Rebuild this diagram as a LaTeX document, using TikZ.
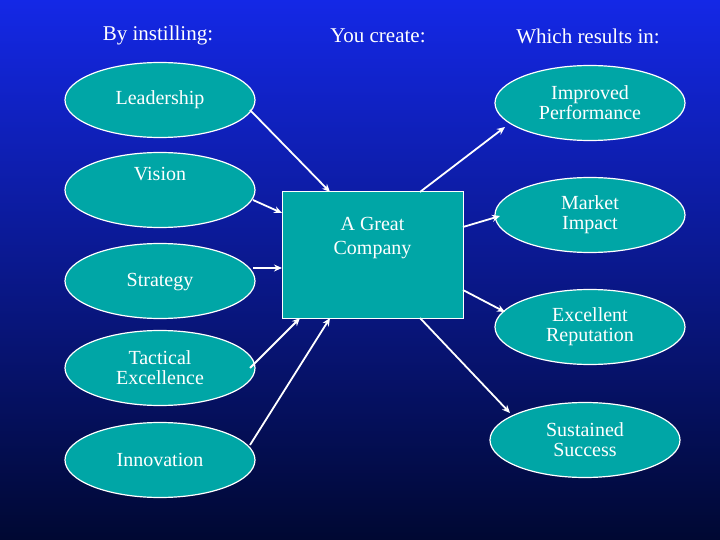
\documentclass[tikz,border=0pt]{standalone}
\usepackage{fontspec}
\setmainfont{Liberation Serif}
\usetikzlibrary{shapes.geometric,arrows.meta}
\definecolor{teal1}{RGB}{0,166,166}
\definecolor{topblue}{RGB}{20,40,230}
\definecolor{botblue}{RGB}{0,8,50}
\begin{document}
\begin{tikzpicture}[x=1pt,y=-1pt,
  ell/.style={ellipse,draw=white,line width=1.2pt,fill=teal1,text=white,minimum width=190pt,minimum height=75pt,inner sep=0pt,font=\fontsize{20}{20}\selectfont,align=center},
  hdr/.style={text=white,font=\fontsize{21}{24}\selectfont},
  arr/.style={draw=white,line width=1.8pt,-{Stealth[length=8pt,width=7pt]}}]
\shade[top color=topblue,bottom color=botblue] (0,0) rectangle (720,540);
\useasboundingbox (0,0) rectangle (720,540);
\node[hdr] (h1) at (158,35) {By instilling:};
\node[hdr] (h2) at (378,36) {You create:};
\node[hdr] (h3) at (588,36) {Which results in:};
\node[ell] (lead) at (160,100) {Leadership};
\node[ell] (vis) at (160,190) {Vision\\[12pt]};
\node[ell] (str) at (160,281) {\\[-4pt]Strategy};
\node[ell] (tac) at (160,368) {Tactical\\Excellence};
\node[ell] (inn) at (160,460) {Innovation};
\node[ell] (imp) at (590,103) {Improved\\Performance};
\node[ell] (mkt) at (590,215) {Market\\Impact};
\node[ell] (exc) at (590,327) {Excellent\\Reputation};
\node[ell] (sus) at (585,440) {Sustained\\Success};
\node[draw=white,line width=1pt,fill=teal1,text=white,minimum width=181pt,minimum height=126pt,font=\fontsize{20}{24}\selectfont,align=center] (co) at (372.5,255) {A Great\\Company\\[14pt]};
\draw[arr] (250,110) -- (330,192);
\draw[arr] (253,200) -- (282,213);
\draw[arr] (253,268) -- (282,268);
\draw[arr] (250,368) -- (300,318);
\draw[arr] (250,445) -- (330,318);
\draw[arr] (420,192) -- (505,127);
\draw[arr] (463,227) -- (500,216);
\draw[arr] (463,290) -- (505,312);
\draw[arr] (420,318) -- (510,413);
\end{tikzpicture}
\end{document}
